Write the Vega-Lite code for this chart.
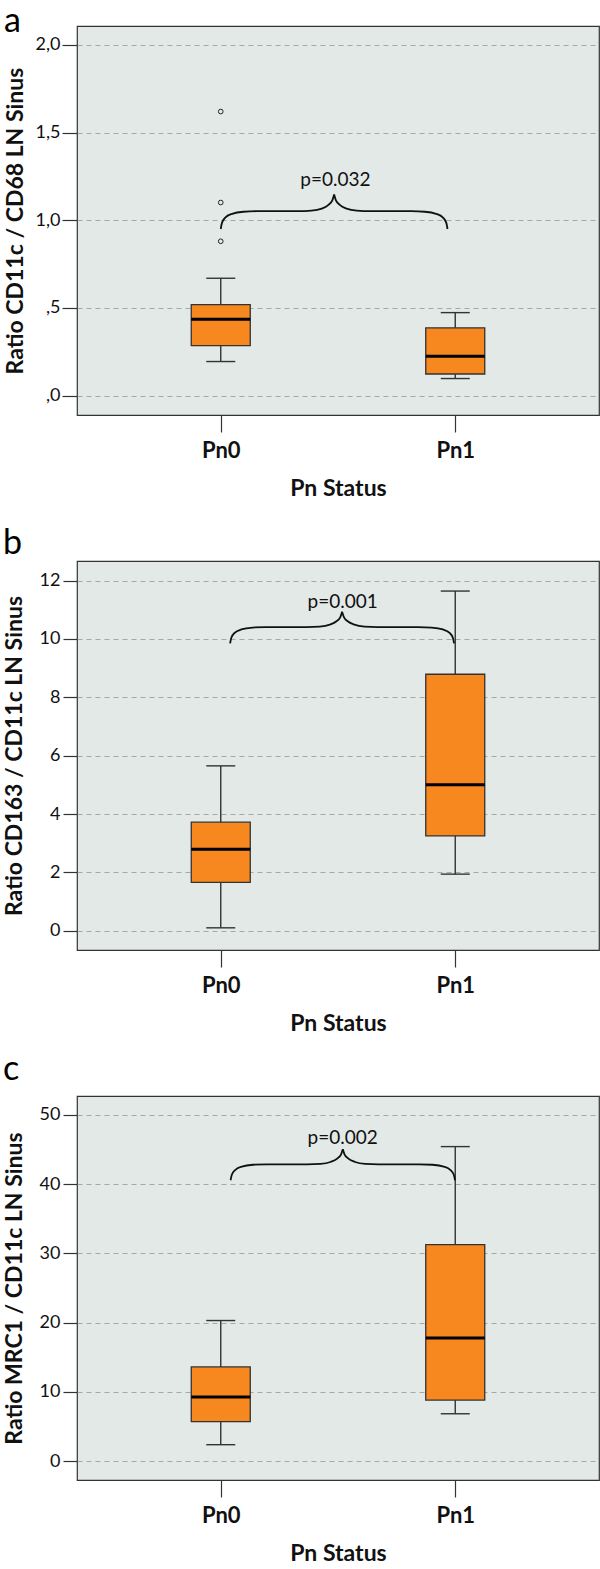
{
  "$schema": "https://vega.github.io/schema/vega-lite/v6.json",
  "padding": {"top": 4, "left": 2, "right": 0, "bottom": 0},
  "bounds": "flush",
  "spacing": 146,
  "config": {
    "font": "Lato",
    "view": {"fill": "#E3E9E7", "stroke": "#333333", "strokeWidth": 1.2},
    "axis": {"domain": false, "tickColor": "#333333", "tickWidth": 1.2, "labelColor": "#111111", "titleColor": "#111111", "labelFont": "Lato", "titleFont": "Lato"},
    "axisY": {"grid": true, "gridColor": "#A5A8A7", "gridDash": [5, 4], "gridWidth": 1, "labelFontSize": 18, "labelFontWeight": "normal", "titleFontSize": 23, "titleFontWeight": "bold"},
    "axisX": {"grid": false, "tickSize": 17, "labelFontSize": 22, "labelFontWeight": "bold", "labelPadding": 8, "titleFontSize": 23, "titleFontWeight": "bold", "titlePadding": 16, "labelAngle": 0},
    "tick": {"opacity": 1},
    "title": {"fontSize": 34, "fontWeight": "normal", "anchor": "start", "frame": "bounds", "baseline": "alphabetic", "color": "#000000"}
  },
  "vconcat": [
    {
      "title": {"text": "a", "offset": -13},
      "width": 522,
      "height": 389,
      "resolve": {"scale": {"x": "independent"}, "axis": {"x": "independent"}},
      "layer": [
        {
          "data": {"values": [
            {"group": "Pn0", "lower": 0.194, "q1": 0.285, "median": 0.435, "q3": 0.519, "upper": 0.669},
            {"group": "Pn1", "lower": 0.097, "q1": 0.123, "median": 0.224, "q3": 0.386, "upper": 0.473}
          ]},
          "encoding": {"x": {"field": "group", "type": "nominal", "scale": {"type": "point", "padding": 0.613}, "axis": {"title": "Pn Status"}}},
          "layer": [
            {"mark": {"type": "rule", "color": "#333333", "strokeWidth": 1.4},
             "encoding": {"y": {"field": "lower", "type": "quantitative", "scale": {"domain": [-0.111, 2.108], "nice": false, "zero": false},
               "axis": {"title": "Ratio CD11c / CD68 LN Sinus", "values": [0, 0.5, 1, 1.5, 2], "tickSize": 15, "labelPadding": 2, "titlePadding": 8,
                 "labelExpr": "datum.value < 1 ? ',' + format(datum.value * 10, 'd') : replace(format(datum.value, '.1f'), '.', ',')"}},
               "y2": {"field": "upper"}}},
            {"mark": {"type": "tick", "color": "#333333", "size": 29, "thickness": 1.4, "opacity": 1},
             "encoding": {"y": {"field": "lower", "type": "quantitative", "scale": {"domain": [-0.111, 2.108], "nice": false, "zero": false}}}},
            {"mark": {"type": "tick", "color": "#333333", "size": 29, "thickness": 1.4, "opacity": 1},
             "encoding": {"y": {"field": "upper", "type": "quantitative", "scale": {"domain": [-0.111, 2.108], "nice": false, "zero": false}}}},
            {"mark": {"type": "bar", "size": 59, "fill": "#F7871F", "stroke": "#333333", "strokeWidth": 1.3, "opacity": 1},
             "encoding": {"y": {"field": "q1", "type": "quantitative", "scale": {"domain": [-0.111, 2.108], "nice": false, "zero": false}}, "y2": {"field": "q3"}}},
            {"mark": {"type": "tick", "color": "#000000", "size": 59, "thickness": 3, "opacity": 1},
             "encoding": {"y": {"field": "median", "type": "quantitative", "scale": {"domain": [-0.111, 2.108], "nice": false, "zero": false}}}},
            {"data": {"values": [
              {"group": "Pn0", "value": 1.62},
              {"group": "Pn0", "value": 1.101},
              {"group": "Pn0", "value": 0.88}
             ]},
             "mark": {"type": "point", "shape": "circle", "size": 22, "filled": false, "stroke": "#222222", "strokeWidth": 1, "opacity": 1},
             "encoding": {"y": {"field": "value", "type": "quantitative", "scale": {"domain": [-0.111, 2.108], "nice": false, "zero": false}}}}
          ]
        },
        {
          "data": {"values": [
            {"half": "L", "bx": 0, "by": 0.95}, {"half": "L", "bx": 0.0048, "by": 0.9835}, {"half": "L", "bx": 0.0193, "by": 1.015},
            {"half": "L", "bx": 0.0484, "by": 1.0367}, {"half": "L", "bx": 0.0967, "by": 1.0485}, {"half": "L", "bx": 0.1547, "by": 1.0515},
            {"half": "L", "bx": 0.3288, "by": 1.0515}, {"half": "L", "bx": 0.3868, "by": 1.0544}, {"half": "L", "bx": 0.4303, "by": 1.0662},
            {"half": "L", "bx": 0.4593, "by": 1.0879}, {"half": "L", "bx": 0.4758, "by": 1.1135}, {"half": "L", "bx": 0.4835, "by": 1.147},
            {"half": "R", "bx": 0.4835, "by": 1.147}, {"half": "R", "bx": 0.4912, "by": 1.1135}, {"half": "R", "bx": 0.5077, "by": 1.0879},
            {"half": "R", "bx": 0.5367, "by": 1.0662}, {"half": "R", "bx": 0.5802, "by": 1.0544}, {"half": "R", "bx": 0.6382, "by": 1.0515},
            {"half": "R", "bx": 0.8123, "by": 1.0515}, {"half": "R", "bx": 0.8703, "by": 1.0485}, {"half": "R", "bx": 0.9186, "by": 1.0367},
            {"half": "R", "bx": 0.9477, "by": 1.015}, {"half": "R", "bx": 0.9622, "by": 0.9835}, {"half": "R", "bx": 0.967, "by": 0.95}
          ]},
          "encoding": {"x": {"field": "bx", "type": "quantitative", "scale": {"domain": [-0.613, 1.613], "nice": false, "zero": false}, "axis": null}},
          "layer": [
            {"mark": {"type": "line", "interpolate": "monotone", "color": "#111111", "strokeWidth": 1.8},
             "encoding": {"y": {"field": "by", "type": "quantitative", "scale": {"domain": [-0.111, 2.108], "nice": false, "zero": false}}, "detail": {"field": "half"}}},
            {"data": {"values": [{"bx": 0.489, "by": 1.228, "label": "p=0.032"}]},
             "mark": {"type": "text", "fontSize": 19, "baseline": "middle", "align": "center", "color": "#111111"},
             "encoding": {"y": {"field": "by", "type": "quantitative", "scale": {"domain": [-0.111, 2.108], "nice": false, "zero": false}}, "text": {"field": "label"}}}
          ]
        }
      ]
    },
    {
      "title": {"text": "b", "offset": 0},
      "width": 522,
      "height": 389,
      "resolve": {"scale": {"x": "independent"}, "axis": {"x": "independent"}},
      "layer": [
        {
          "data": {"values": [
            {"group": "Pn0", "lower": 0.10, "q1": 1.66, "median": 2.79, "q3": 3.72, "upper": 5.65},
            {"group": "Pn1", "lower": 1.94, "q1": 3.25, "median": 5.00, "q3": 8.79, "upper": 11.64}
          ]},
          "encoding": {"x": {"field": "group", "type": "nominal", "scale": {"type": "point", "padding": 0.613}, "axis": {"title": "Pn Status"}}},
          "layer": [
            {"mark": {"type": "rule", "color": "#333333", "strokeWidth": 1.4},
             "encoding": {"y": {"field": "lower", "type": "quantitative", "scale": {"domain": [-0.66, 12.67], "nice": false, "zero": false},
               "axis": {"title": "Ratio CD163 / CD11c LN Sinus", "values": [0, 2, 4, 6, 8, 10, 12], "tickSize": 14, "labelPadding": 3, "titlePadding": 13}},
               "y2": {"field": "upper"}}},
            {"mark": {"type": "tick", "color": "#333333", "size": 29, "thickness": 1.4, "opacity": 1},
             "encoding": {"y": {"field": "lower", "type": "quantitative", "scale": {"domain": [-0.66, 12.67], "nice": false, "zero": false}}}},
            {"mark": {"type": "tick", "color": "#333333", "size": 29, "thickness": 1.4, "opacity": 1},
             "encoding": {"y": {"field": "upper", "type": "quantitative", "scale": {"domain": [-0.66, 12.67], "nice": false, "zero": false}}}},
            {"mark": {"type": "bar", "size": 59, "fill": "#F7871F", "stroke": "#333333", "strokeWidth": 1.3, "opacity": 1},
             "encoding": {"y": {"field": "q1", "type": "quantitative", "scale": {"domain": [-0.66, 12.67], "nice": false, "zero": false}}, "y2": {"field": "q3"}}},
            {"mark": {"type": "tick", "color": "#000000", "size": 59, "thickness": 3, "opacity": 1},
             "encoding": {"y": {"field": "median", "type": "quantitative", "scale": {"domain": [-0.66, 12.67], "nice": false, "zero": false}}}}
          ]
        },
        {
          "data": {"values": [
            {"half": "L", "bx": 0.04, "by": 9.85}, {"half": "L", "bx": 0.0448, "by": 10.034}, {"half": "L", "bx": 0.0591, "by": 10.206},
            {"half": "L", "bx": 0.0878, "by": 10.325}, {"half": "L", "bx": 0.1355, "by": 10.39}, {"half": "L", "bx": 0.1928, "by": 10.406},
            {"half": "L", "bx": 0.3647, "by": 10.406}, {"half": "L", "bx": 0.422, "by": 10.422}, {"half": "L", "bx": 0.465, "by": 10.487},
            {"half": "L", "bx": 0.4936, "by": 10.606}, {"half": "L", "bx": 0.5099, "by": 10.746}, {"half": "L", "bx": 0.5175, "by": 10.93},
            {"half": "R", "bx": 0.5175, "by": 10.93}, {"half": "R", "bx": 0.5251, "by": 10.746}, {"half": "R", "bx": 0.5414, "by": 10.606},
            {"half": "R", "bx": 0.57, "by": 10.487}, {"half": "R", "bx": 0.613, "by": 10.422}, {"half": "R", "bx": 0.6703, "by": 10.406},
            {"half": "R", "bx": 0.8422, "by": 10.406}, {"half": "R", "bx": 0.8995, "by": 10.39}, {"half": "R", "bx": 0.9472, "by": 10.325},
            {"half": "R", "bx": 0.9759, "by": 10.206}, {"half": "R", "bx": 0.9902, "by": 10.034}, {"half": "R", "bx": 0.995, "by": 9.85}
          ]},
          "encoding": {"x": {"field": "bx", "type": "quantitative", "scale": {"domain": [-0.613, 1.613], "nice": false, "zero": false}, "axis": null}},
          "layer": [
            {"mark": {"type": "line", "interpolate": "monotone", "color": "#111111", "strokeWidth": 1.8},
             "encoding": {"y": {"field": "by", "type": "quantitative", "scale": {"domain": [-0.66, 12.67], "nice": false, "zero": false}}, "detail": {"field": "half"}}},
            {"data": {"values": [{"bx": 0.52, "by": 11.27, "label": "p=0.001"}]},
             "mark": {"type": "text", "fontSize": 19, "baseline": "middle", "align": "center", "color": "#111111"},
             "encoding": {"y": {"field": "by", "type": "quantitative", "scale": {"domain": [-0.66, 12.67], "nice": false, "zero": false}}, "text": {"field": "label"}}}
          ]
        }
      ]
    },
    {
      "title": {"text": "c", "offset": 8.9},
      "width": 522,
      "height": 384,
      "resolve": {"scale": {"x": "independent"}, "axis": {"x": "independent"}},
      "layer": [
        {
          "data": {"values": [
            {"group": "Pn0", "lower": 2.36, "q1": 5.68, "median": 9.24, "q3": 13.6, "upper": 20.3},
            {"group": "Pn1", "lower": 6.83, "q1": 8.81, "median": 17.76, "q3": 31.28, "upper": 45.43}
          ]},
          "encoding": {"x": {"field": "group", "type": "nominal", "scale": {"type": "point", "padding": 0.613}, "axis": {"title": "Pn Status"}}},
          "layer": [
            {"mark": {"type": "rule", "color": "#333333", "strokeWidth": 1.4},
             "encoding": {"y": {"field": "lower", "type": "quantitative", "scale": {"domain": [-2.74, 52.74], "nice": false, "zero": false},
               "axis": {"title": "Ratio MRC1 / CD11c LN Sinus", "values": [0, 10, 20, 30, 40, 50], "tickSize": 14, "labelPadding": 3, "titlePadding": 13}},
               "y2": {"field": "upper"}}},
            {"mark": {"type": "tick", "color": "#333333", "size": 29, "thickness": 1.4, "opacity": 1},
             "encoding": {"y": {"field": "lower", "type": "quantitative", "scale": {"domain": [-2.74, 52.74], "nice": false, "zero": false}}}},
            {"mark": {"type": "tick", "color": "#333333", "size": 29, "thickness": 1.4, "opacity": 1},
             "encoding": {"y": {"field": "upper", "type": "quantitative", "scale": {"domain": [-2.74, 52.74], "nice": false, "zero": false}}}},
            {"mark": {"type": "bar", "size": 59, "fill": "#F7871F", "stroke": "#333333", "strokeWidth": 1.3, "opacity": 1},
             "encoding": {"y": {"field": "q1", "type": "quantitative", "scale": {"domain": [-2.74, 52.74], "nice": false, "zero": false}}, "y2": {"field": "q3"}}},
            {"mark": {"type": "tick", "color": "#000000", "size": 59, "thickness": 3, "opacity": 1},
             "encoding": {"y": {"field": "median", "type": "quantitative", "scale": {"domain": [-2.74, 52.74], "nice": false, "zero": false}}}}
          ]
        },
        {
          "data": {"values": [
            {"half": "L", "bx": 0.042, "by": 40.57}, {"half": "L", "bx": 0.0468, "by": 41.33}, {"half": "L", "bx": 0.0611, "by": 42.045},
            {"half": "L", "bx": 0.0899, "by": 42.537}, {"half": "L", "bx": 0.1377, "by": 42.805}, {"half": "L", "bx": 0.1951, "by": 42.872},
            {"half": "L", "bx": 0.3674, "by": 42.872}, {"half": "L", "bx": 0.4248, "by": 42.939}, {"half": "L", "bx": 0.4679, "by": 43.207},
            {"half": "L", "bx": 0.4966, "by": 43.699}, {"half": "L", "bx": 0.5128, "by": 44.28}, {"half": "L", "bx": 0.5205, "by": 45.04},
            {"half": "R", "bx": 0.5205, "by": 45.04}, {"half": "R", "bx": 0.5282, "by": 44.28}, {"half": "R", "bx": 0.5444, "by": 43.699},
            {"half": "R", "bx": 0.5731, "by": 43.207}, {"half": "R", "bx": 0.6162, "by": 42.939}, {"half": "R", "bx": 0.6736, "by": 42.872},
            {"half": "R", "bx": 0.8459, "by": 42.872}, {"half": "R", "bx": 0.9033, "by": 42.805}, {"half": "R", "bx": 0.9511, "by": 42.537},
            {"half": "R", "bx": 0.9799, "by": 42.045}, {"half": "R", "bx": 0.9942, "by": 41.33}, {"half": "R", "bx": 0.999, "by": 40.57}
          ]},
          "encoding": {"x": {"field": "bx", "type": "quantitative", "scale": {"domain": [-0.613, 1.613], "nice": false, "zero": false}, "axis": null}},
          "layer": [
            {"mark": {"type": "line", "interpolate": "monotone", "color": "#111111", "strokeWidth": 1.8},
             "encoding": {"y": {"field": "by", "type": "quantitative", "scale": {"domain": [-2.74, 52.74], "nice": false, "zero": false}}, "detail": {"field": "half"}}},
            {"data": {"values": [{"bx": 0.52, "by": 46.73, "label": "p=0.002"}]},
             "mark": {"type": "text", "fontSize": 19, "baseline": "middle", "align": "center", "color": "#111111"},
             "encoding": {"y": {"field": "by", "type": "quantitative", "scale": {"domain": [-2.74, 52.74], "nice": false, "zero": false}}, "text": {"field": "label"}}}
          ]
        }
      ]
    }
  ]
}
